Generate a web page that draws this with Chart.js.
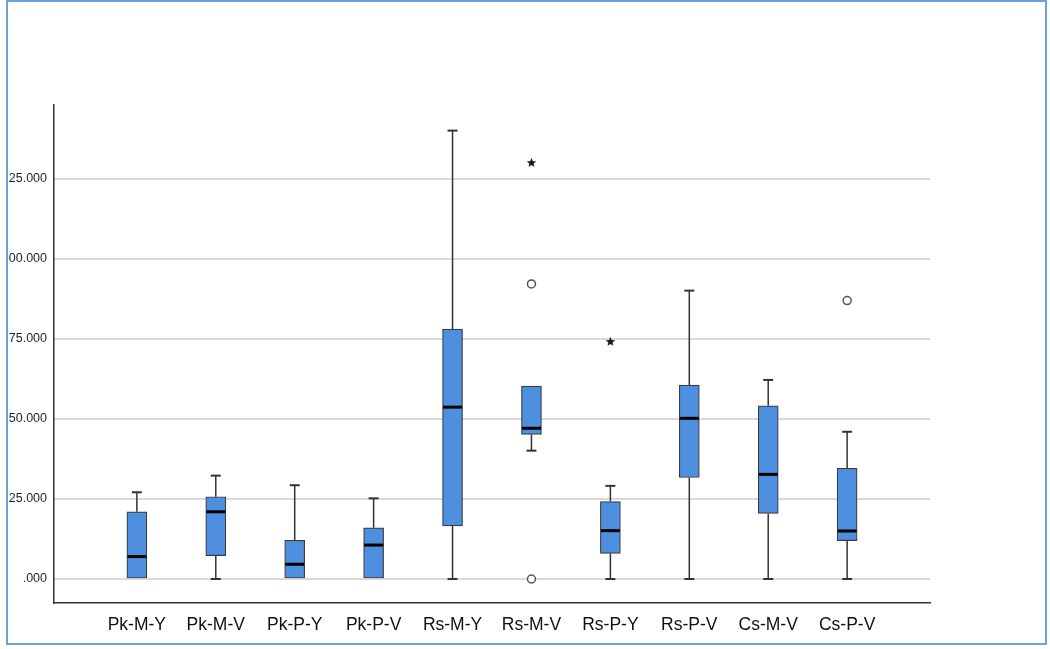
<!DOCTYPE html>
<html>
<head>
<meta charset="utf-8">
<script src="https://cdn.jsdelivr.net/npm/chart.js@4.4.1/dist/chart.umd.min.js"></script>
<style>
  html, body { margin: 0; padding: 0; background: #ffffff; }
  #wrap { position: relative; width: 1050px; height: 649px; overflow: hidden; }
  #frame { position: absolute; left: 6px; top: 0px; width: 1037px; height: 641px; border: 2px solid #6aa3dc; box-sizing: content-box; pointer-events: none; }
  canvas#c { position: absolute; left: 0; top: 0; }
</style>
</head>
<body>
<div id="wrap">
  <canvas id="c" width="1050" height="649"></canvas>
  <div id="frame"></div>
</div>
<script>
// ---- data ----
const categories = ['Pk-M-Y','Pk-M-V','Pk-P-Y','Pk-P-V','Rs-M-Y','Rs-M-V','Rs-P-Y','Rs-P-V','Cs-M-V','Cs-P-V'];
const whiskerMin = [0, 0, 0, 0, 0, 40.1, 0, 0, 0, 0];
const q1Values   = [0, 7.3, 0, 0, 16.6, 45.2, 8.0, 31.7, 20.5, 12.0];
const medians    = [7.0, 21.0, 4.6, 10.6, 53.7, 47.1, 15.1, 50.2, 32.7, 15.0];
const q3Values   = [21.0, 25.7, 12.1, 16.0, 78.1, 60.3, 24.2, 60.6, 54.1, 34.6];
const whiskerMax = [27.1, 32.3, 29.3, 25.2, 140.1, 60.3, 29.1, 90.1, 62.2, 46.0];
// outliers: [category index, value]
const circleOutliers = [[5, 92.2], [5, 0], [9, 87.0]];
const starOutliers   = [[5, 130.1], [6, 74.2]];
const yTickValues = [0, 25, 50, 75, 100, 125];
const yTickLabels = ['.000', '25.000', '50.000', '75.000', '00.000', '25.000'];

// small filled five-point star used as point style
const starImg = document.createElement('canvas');
starImg.width = 11; starImg.height = 11;
(function () {
  const g = starImg.getContext('2d');
  g.fillStyle = '#1a1a1a';
  g.beginPath();
  for (let k = 0; k < 10; k++) {
    const r = k % 2 === 0 ? 5 : 2.2;
    const a = -Math.PI / 2 + k * Math.PI / 5;
    const px = 5.5 + r * Math.cos(a), py = 5.8 + r * Math.sin(a);
    if (k === 0) g.moveTo(px, py); else g.lineTo(px, py);
  }
  g.closePath();
  g.fill();
})();

const boxParts = {
  id: 'boxParts',
  beforeDatasetsDraw(chart) {
    const ctx = chart.ctx, xs = chart.scales.x, ys = chart.scales.y;
    ctx.save();
    ctx.strokeStyle = '#333333';
    categories.forEach((c, i) => {
      const x = xs.getPixelForValue(i);
      const segs = [];
      if (whiskerMax[i] > q3Values[i]) segs.push([q3Values[i], whiskerMax[i]]);
      if (whiskerMin[i] < q1Values[i]) segs.push([q1Values[i], whiskerMin[i]]);
      segs.forEach(([from, to]) => {
        ctx.lineWidth = 1.5;
        ctx.beginPath();
        ctx.moveTo(x, ys.getPixelForValue(from));
        ctx.lineTo(x, ys.getPixelForValue(to));
        ctx.stroke();
        ctx.lineWidth = 2;
        ctx.beginPath();
        ctx.moveTo(x - 5, ys.getPixelForValue(to));
        ctx.lineTo(x + 5, ys.getPixelForValue(to));
        ctx.stroke();
      });
    });
    ctx.restore();
  },
  afterDatasetsDraw(chart) {
    const ctx = chart.ctx, xs = chart.scales.x, ys = chart.scales.y;
    const meta = chart.getDatasetMeta(0);
    ctx.save();
    ctx.strokeStyle = '#000000';
    ctx.lineWidth = 3;
    categories.forEach((c, i) => {
      const bar = meta.data[i];
      const half = bar.width / 2;
      const x = xs.getPixelForValue(i);
      const y = ys.getPixelForValue(medians[i]);
      ctx.beginPath();
      ctx.moveTo(x - half + 0.5, y);
      ctx.lineTo(x + half - 0.5, y);
      ctx.stroke();
    });
    ctx.restore();
  }
};

new Chart(document.getElementById('c'), {
  type: 'bar',
  data: {
    datasets: [
      {
        type: 'bar',
        data: categories.map((c, i) => ({ x: i, y: [q1Values[i], q3Values[i]] })),
        backgroundColor: '#4f8fe0',
        borderColor: '#3d3d3d',
        borderWidth: 1.2,
        borderSkipped: false,
        barThickness: 20,
        order: 2
      },
      {
        type: 'scatter',
        data: circleOutliers.map(([i, v]) => ({ x: i, y: v })),
        pointStyle: 'circle',
        pointRadius: 4,
        pointBackgroundColor: '#ffffff',
        pointBorderColor: '#555555',
        pointBorderWidth: 1.5,
        order: 1
      },
      {
        type: 'scatter',
        data: starOutliers.map(([i, v]) => ({ x: i, y: v })),
        pointStyle: starImg,
        pointRadius: 5,
        order: 1
      }
    ]
  },
  options: {
    responsive: false,
    animation: false,
    layout: { padding: { left: 0, right: 120, top: 105, bottom: 0 } },
    plugins: { legend: { display: false }, tooltip: { enabled: false } },
    scales: {
      x: {
        type: 'linear',
        offset: false,
        min: -1.05,
        max: 10.05,
        afterBuildTicks(scale) { scale.ticks = categories.map((c, i) => ({ value: i })); },
        afterFit(scale) { scale.height = 46; },
        grid: { display: false, drawTicks: false, offset: false },
        border: { display: true, color: '#333333', width: 1.5 },
        ticks: {
          autoSkip: false,
          maxRotation: 0,
          padding: 12,
          color: '#111111',
          font: { family: '"Liberation Sans", Arial, sans-serif', size: 17.5 },
          callback: (v) => categories[v] ?? ''
        }
      },
      y: {
        type: 'linear',
        min: -7.5,
        max: 148.1,
        afterBuildTicks(scale) { scale.ticks = yTickValues.map(v => ({ value: v })); },
        afterFit(scale) { scale.width = 54; },
        grid: { color: '#d9d9d9', lineWidth: 2, drawTicks: false },
        border: { display: true, color: '#333333', width: 1.5 },
        ticks: {
          padding: 7,
          color: '#1f1f2a',
          font: { family: '"Liberation Sans", Arial, sans-serif', size: 12.5 },
          callback: (v) => { const k = yTickValues.indexOf(v); return k >= 0 ? yTickLabels[k] : ''; }
        }
      }
    }
  },
  plugins: [boxParts]
});
</script>
</body>
</html>
